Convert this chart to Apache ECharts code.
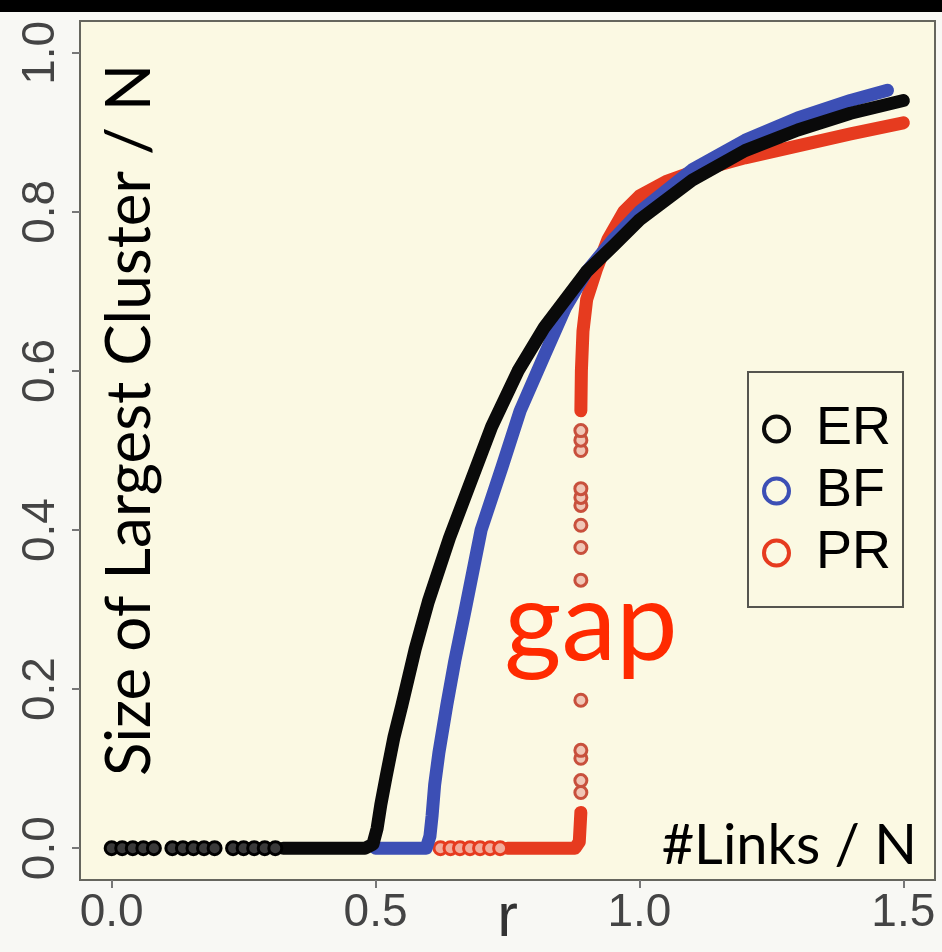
<!DOCTYPE html>
<html>
<head>
<meta charset="utf-8">
<script src="https://cdn.jsdelivr.net/npm/echarts@6/dist/echarts.min.js"></script>
<style>
  html, body { margin: 0; padding: 0; background: #f8f8f4; }
  #chart { width: 942px; height: 952px; }
</style>
</head>
<body>
<div id="chart"></div>
<script>
(function () {
    'use strict';

    // --- values (r = #links / N, v = largest cluster / N) ---
    const xTicks = [0, 0.5, 1, 1.5];
    const yTicks = [0, 0.2, 0.4, 0.6, 0.8, 1];
    const legendNames = ['ER', 'BF', 'PR'];

    // ER: sparse open circles on the zero line, then the dense curve
    const erZeroR = [0, 0.02, 0.04, 0.06, 0.08, 0.115, 0.135, 0.155, 0.175, 0.195, 0.23, 0.25, 0.27, 0.29, 0.31];
    const erCurve = [
        [0.325, 0], [0.48, 0], [0.495, 0.005], [0.503, 0.025], [0.51, 0.055], [0.52, 0.09],
        [0.535, 0.14], [0.55, 0.18], [0.575, 0.25], [0.6, 0.31], [0.64, 0.39], [0.68, 0.46],
        [0.72, 0.53], [0.77, 0.6], [0.82, 0.655], [0.9, 0.725], [0.95, 0.757], [1.0, 0.79],
        [1.1, 0.84], [1.2, 0.877], [1.3, 0.903], [1.4, 0.924], [1.5, 0.94]
    ];

    // BF
    const bfCurve = [
        [0.5, 0], [0.596, 0], [0.603, 0.015], [0.607, 0.04], [0.612, 0.08], [0.62, 0.12],
        [0.635, 0.18], [0.65, 0.235], [0.67, 0.3], [0.7, 0.4], [0.74, 0.48], [0.774, 0.55],
        [0.82, 0.62], [0.86, 0.68], [0.9, 0.725], [0.95, 0.765], [1.0, 0.8], [1.1, 0.853],
        [1.2, 0.89], [1.3, 0.918], [1.4, 0.94], [1.47, 0.953]
    ];

    // PR: open circles on zero line, base segment, scattered points in the gap, upper branch
    const prZeroR = [0.623, 0.642, 0.66, 0.679, 0.698, 0.717, 0.736];
    const prBase = [[0.75, 0], [0.878, 0], [0.886, 0.008], [0.889, 0.045]];
    const prGapR = 0.889;
    const prGapV = [0.07, 0.085, 0.113, 0.123, 0.186, 0.337, 0.378, 0.406, 0.431, 0.441, 0.452, 0.5, 0.513, 0.525];
    const prUpper = [
        [0.889, 0.55], [0.89, 0.6], [0.893, 0.65], [0.9, 0.69], [0.918, 0.727], [0.94, 0.765],
        [0.97, 0.8], [1.0, 0.82], [1.05, 0.838], [1.1, 0.85], [1.2, 0.868], [1.3, 0.883],
        [1.4, 0.898], [1.5, 0.912]
    ];

    const colors = { ER: '#0a0a0a', BF: '#3c4fb5', PR: '#e63b1f' };
    const tickFont = "'Liberation Sans Narrow', 'Liberation Sans', sans-serif";
    const noteFont = "Lato, 'Noto Sans', sans-serif";

    const thickLine = (name, data, color, z) => ({
        name,
        type: 'line',
        data,
        z,
        showSymbol: false,
        symbol: 'none',
        smooth: false,
        silent: true,
        animation: false,
        itemStyle: { color },
        lineStyle: { color, width: 13, cap: 'round', join: 'round' }
    });

    const circles = (name, data, fill, stroke, size, z) => ({
        name,
        type: 'scatter',
        data,
        z,
        symbol: 'circle',
        symbolSize: size,
        silent: true,
        animation: false,
        itemStyle: { color: fill, borderColor: stroke, borderWidth: 3, opacity: 1 }
    });

    const chart = echarts.init(document.getElementById('chart'), null, { renderer: 'canvas' });

    chart.setOption({
        backgroundColor: '#f8f8f4',
        animation: false,
        grid: {
            left: 80, right: 7, top: 21, bottom: 72,
            outerBoundsMode: 'none',
            containLabel: false,
            show: true,
            backgroundColor: '#fbf9e3',
            borderColor: '#66665e',
            borderWidth: 2
        },
        xAxis: {
            type: 'value',
            min: -0.06,
            max: 1.56,
            name: 'r',
            nameLocation: 'middle',
            nameGap: 8,
            nameMoveOverlap: false,
            nameTextStyle: { fontFamily: tickFont, fontSize: 62, color: '#333', verticalAlign: 'top' },
            axisLine: { show: false, onZero: false },
            splitLine: { show: false },
            axisTick: { show: true, customValues: xTicks, length: 8, lineStyle: { color: '#777', width: 2 } },
            axisLabel: {
                customValues: xTicks,
                formatter: v => v.toFixed(1),
                fontFamily: tickFont,
                fontSize: 46,
                color: '#444',
                margin: 10
            }
        },
        yAxis: {
            type: 'value',
            min: -0.04,
            max: 1.04,
            axisLine: { show: false, onZero: false },
            splitLine: { show: false },
            axisTick: { show: true, customValues: yTicks, length: 8, lineStyle: { color: '#777', width: 2 } },
            axisLabel: {
                customValues: yTicks,
                formatter: v => v.toFixed(1),
                rotate: 90,
                fontFamily: tickFont,
                fontSize: 46,
                color: '#444',
                margin: 16
            }
        },
        legend: {
            orient: 'vertical',
            left: 748,
            top: 372,
            padding: [30, 12, 27, 14],
            itemGap: 8,
            itemWidth: 25,
            itemHeight: 25,
            borderColor: '#55554f',
            borderWidth: 2,
            backgroundColor: 'transparent',
            selectedMode: false,
            textStyle: {
                fontFamily: "'Liberation Sans', Arial, sans-serif",
                fontSize: 54,
                lineHeight: 46,
                color: '#000',
                padding: [0, 0, 0, 22]
            },
            data: legendNames.map(n => ({
                name: n,
                icon: 'circle',
                itemStyle: { color: 'transparent', borderColor: colors[n], borderWidth: 4 }
            }))
        },
        series: [
            circles('PR', prZeroR.map(r => [r, 0]), '#f2ad9c', colors.PR, 13, 2),
            thickLine('PR', prBase, colors.PR, 2),
            circles('PR', prGapV.map(v => [prGapR, v]), '#f0c6b6', '#c8503c', 12, 2),
            thickLine('PR', prUpper, colors.PR, 2),
            thickLine('BF', bfCurve, colors.BF, 3),
            circles('ER', erZeroR.map(r => [r, 0]), '#3a3a3a', '#000', 13, 4),
            thickLine('ER', erCurve, colors.ER, 4)
        ],
        graphic: [
            { type: 'rect', left: 0, top: 0, shape: { width: 942, height: 12 }, style: { fill: '#000' }, z: 100 },
            {
                type: 'text',
                x: 130, y: 420,
                rotation: Math.PI / 2,
                style: {
                    text: 'Size of Largest Cluster / N',
                    font: '62px ' + noteFont,
                    fill: '#000',
                    align: 'center',
                    verticalAlign: 'middle'
                },
                z: 100
            },
            {
                type: 'text',
                x: 917, y: 846,
                style: {
                    text: '#Links / N',
                    font: '56px ' + noteFont,
                    fill: '#000',
                    align: 'right',
                    verticalAlign: 'middle'
                },
                z: 100
            },
            {
                type: 'text',
                x: 591, y: 625,
                style: {
                    text: 'gap',
                    font: '110px ' + noteFont,
                    fill: '#ff2a00',
                    align: 'center',
                    verticalAlign: 'middle'
                },
                z: 100
            }
        ]
    });
})();
</script>
</body>
</html>
